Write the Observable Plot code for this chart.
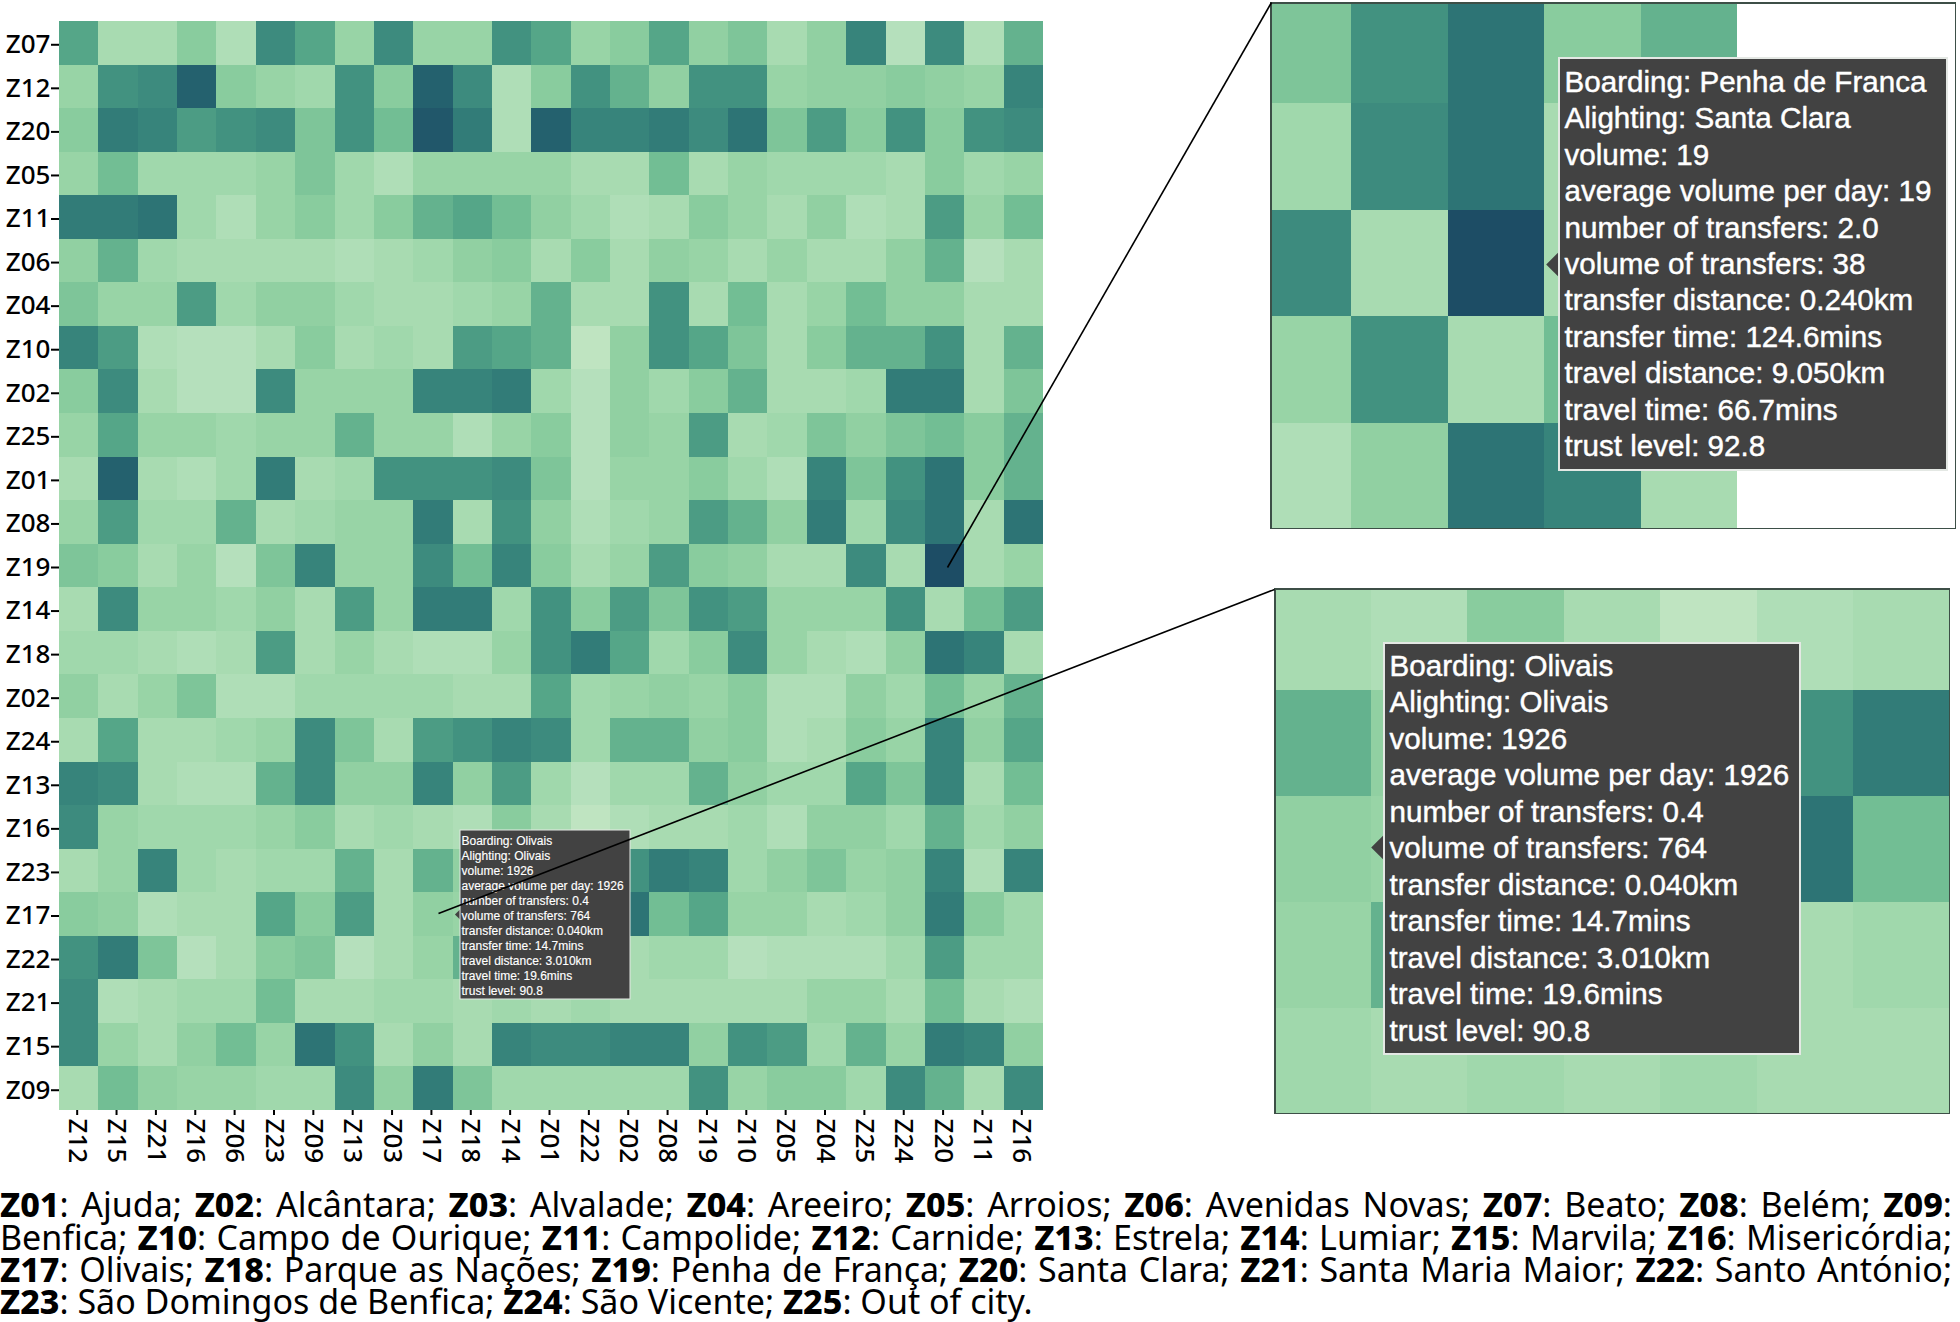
<!DOCTYPE html>
<html>
<head>
<meta charset="utf-8">
<script src="https://cdn.jsdelivr.net/npm/d3@7"></script>
<script src="https://cdn.jsdelivr.net/npm/@observablehq/plot@0.6"></script>
<style>
  html, body { margin: 0; padding: 0; background: #fff; }
  #page { position: relative; width: 1960px; height: 1322px; overflow: hidden; color: #000; }
  #page > svg { position: absolute; color: #000; }
  .legendLine { position: absolute; left: 0; width: 1952px; font: 400 34px "Noto Sans", sans-serif; color: #000;
    text-align: justify; text-align-last: justify; line-height: 32px; }
  .legendLine.last { text-align-last: left; }
  .legendLine b { font-weight: 800; }
</style>
</head>
<body>
<div id="page"></div>
<script>
// Axis labels, top to bottom and left to right
const rowLabels = ["Z07","Z12","Z20","Z05","Z11","Z06","Z04","Z10","Z02","Z25","Z01","Z08","Z19","Z14","Z18","Z02","Z24","Z13","Z16","Z23","Z17","Z22","Z21","Z15","Z09"];
const colLabels = ["Z12","Z15","Z21","Z16","Z06","Z23","Z09","Z13","Z03","Z17","Z18","Z14","Z01","Z22","Z02","Z08","Z19","Z10","Z05","Z04","Z25","Z24","Z20","Z11","Z16"];

// Cell intensity (1 = lightest, 12 = darkest), one row per boarding zone
const rZ07 = [7,3,3,5,2.5,8.5,7,4,8.5,4,4,8,7,4,5,7,4.5,5.5,3,4.5,9,2,8.5,2.5,6.5];
const rZ12 = [4,8,8.5,11,5,4,3.5,8,5,11,8.5,2.5,5,8,6.5,4.5,8,8,4,4.5,4.5,5,4.5,4,9];
const rZ20 = [5,9.5,9,7.5,8,8.5,5.5,8,6,11.5,9.5,2.5,11,9,9,9.5,8.5,10,5.5,7.5,5,8,5,8,8.5];
const rZ05 = [4,6,3.5,3.5,3.5,4,5.5,3.5,2.5,4,4,4,4,3,3,6,3,4,3.5,3.5,3.5,3,5,3.5,4];
const rZ11 = [9.5,9.5,10,3.5,2.5,4,5,3.5,5,6.5,7,6,4.5,3.5,2.5,3,5,4,3,4.5,2.5,3,7.5,4,6];
const rZ06 = [4.5,6.5,3.5,3,3,3,3,2.5,3,3.5,4.5,5,3,5,3,4.5,4,3,4,3,3,4.5,6.5,2,3];
const rZ04 = [5.5,4,4,7.5,3.5,4.5,4.5,3.5,3,3,3.5,4,6.5,3,3,8,3,6,3,4,6,4.5,4.5,3,3];
const rZ10 = [9,7.5,2.5,2,2,3,5,3,3.5,3,7.5,7,6.5,1.5,4.5,8,7,5.5,3,5,6.5,6.5,8,3,6.5];
const rZ02a = [5,8.5,3,2,2,8.5,4,4,4,9,9,9.5,3.5,2,4.5,3.5,5,6.5,3,3,3.5,9.5,9.5,3,5.5];
const rZ25 = [4,7,4,4,3.5,4,4,6.5,4,4,2.5,4,5,2,4.5,4,7.5,3,3.5,5.5,4.5,5.5,6,5,6.5];
const rZ01 = [3,11,3,2.5,3.5,9.5,3,3.5,8,8,8,8.5,5.5,2,4,4,5,3.5,2.5,9,5.5,8,10,5,6.5];
const rZ08 = [4,7.5,3.5,3.5,6.5,3,3.5,4,4,9.5,3,8,4.5,2.5,3.5,4,7.5,6.5,4.5,9.5,3.5,8.5,10,3,10];
const rZ19 = [5.5,5,3,4,2,5.5,9,4,4,8.5,6,9,5,3,4,7.5,5,4.5,3,3,8.5,3,12,3,4];
const rZ14 = [3,8.5,4,4,3.5,4.5,3,7.5,4,9.5,9.5,3.5,8,5,7.5,5.5,8,7.5,4,4,4,8,3,6,7.5];
const rZ18 = [3.5,3.5,3,2.5,3,7.5,3,4,3,2.5,2.5,4,8,9.5,7,3.5,5,8.5,4,3,2.5,4.5,10,9,3];
const rZ02b = [4.5,3,4,5.5,2.5,2.5,3.5,3.5,3.5,3.5,3,3,7,3.5,4,4.5,4,5,2.5,2.5,4.5,3.5,6,4,6.5];
const rZ24 = [3,7,3,3,3.5,4,8.5,5.5,3,7.5,8,9,8.5,3.5,6.5,6.5,4.5,5,2.5,3,5,4,9,4.5,7];
const rZ13 = [9,8.5,3,2.5,2.5,6.5,8.5,4.5,4.5,9,4.5,7.5,3.5,2,3.5,3.5,6.5,4.5,3.5,3.5,7,5.5,9,3,6];
const rZ16 = [8.5,4,3.5,3.5,3.5,4,5,3,3.5,3,2.5,5,3,1.5,2.5,3,3,3.5,2.5,4.5,4.5,3.5,6.5,3.5,4.5];
const rZ23 = [3,4,9,3.5,3,3.5,3.5,6.5,3,6.5,4.5,4,3.5,3.5,8,9.5,9,3.5,4.5,5.5,4,4.5,9,2.5,9];
const rZ17 = [5,4.5,2.5,3,3,7,5,7.5,3,4.5,4,3.5,3.5,3.5,10,6,7,4,4,3,3.5,4.5,9.5,5,3.5];
const rZ22 = [8,9.5,5.5,2,3,5,5.5,2,3,4,6.5,3,3,3,3,3.5,3.5,2,2.5,2.5,2.5,3.5,7.5,3.5,3.5];
const rZ21 = [8.5,2.5,3,3.5,3.5,6,3,3,3.5,3.5,3,3.5,3,3.5,3,3,3,3,3,4,4,3,6,3,2.5];
const rZ15 = [8.5,4,3,4.5,6,4,10,8,3,4.5,3,9,8.5,8.5,9,9,4.5,8,7.5,3.5,6.5,4,9.5,9,4.5];
const rZ09 = [3,6,4.5,4,4,3.5,3.5,8.5,4.5,9.5,5.5,3.5,3.5,3.5,3.5,3.5,8,4,5,5,3.5,8.5,6.5,3,8.5];
const matrix = [rZ07,rZ12,rZ20,rZ05,rZ11,rZ06,rZ04,rZ10,rZ02a,rZ25,rZ01,rZ08,rZ19,rZ14,rZ18,rZ02b,rZ24,rZ13,rZ16,rZ23,rZ17,rZ22,rZ21,rZ15,rZ09];

// Colour ramp of the reference
const rampLevels = [1,2,3,4,5,6,7,8,9,10,11,12];
const rampColors = ["#c8e7c6","#b5e0bc","#a8dbb1","#98d4a6","#89cc9e","#72be94","#55a688","#429280","#37847b","#2d7475","#24616e","#1d4d65"];

// Tooltip texts
const tipPenha = ["Boarding: Penha de Franca","Alighting: Santa Clara","volume: 19","average volume per day: 19","number of transfers: 2.0","volume of transfers: 38","transfer distance: 0.240km","transfer time: 124.6mins","travel distance: 9.050km","travel time: 66.7mins","trust level: 92.8"];
const tipOlivais = ["Boarding: Olivais","Alighting: Olivais","volume: 1926","average volume per day: 1926","number of transfers: 0.4","volume of transfers: 764","transfer distance: 0.040km","transfer time: 14.7mins","travel distance: 3.010km","travel time: 19.6mins","trust level: 90.8"];

// Zone key, one entry per line of the caption
const keyLines = [
  [["Z01","Ajuda"],["Z02","Alcântara"],["Z03","Alvalade"],["Z04","Areeiro"],["Z05","Arroios"],["Z06","Avenidas Novas"],["Z07","Beato"],["Z08","Belém"],["Z09",""]],
  [["","Benfica"],["Z10","Campo de Ourique"],["Z11","Campolide"],["Z12","Carnide"],["Z13","Estrela"],["Z14","Lumiar"],["Z15","Marvila"],["Z16","Misericórdia"]],
  [["Z17","Olivais"],["Z18","Parque as Nações"],["Z19","Penha de França"],["Z20","Santa Clara"],["Z21","Santa Maria Maior"],["Z22","Santo António"]],
  [["Z23","São Domingos de Benfica"],["Z24","São Vicente"],["Z25","Out of city"]]
];

const cells = matrix.flatMap((row, r) => row.map((v, c) => ({r, c, v})));
const colorScale = {type: "linear", domain: rampLevels, range: rampColors, clamp: true};
const page = document.getElementById("page");
const place = (svg, left, top) => { svg.style.left = left + "px"; svg.style.top = top + "px"; page.appendChild(svg); return svg; };

const axisFont = {fontFamily: "Noto Sans, sans-serif", fontSize: 26, fontWeight: 500};

// Main heatmap
place(Plot.plot({
  width: 1060, height: 1180,
  marginLeft: 59, marginRight: 17, marginTop: 21, marginBottom: 70,
  style: {background: "transparent"},
  x: {type: "band", domain: d3.range(25), padding: 0, round: false},
  y: {type: "band", domain: d3.range(25), padding: 0, round: false},
  color: colorScale,
  marks: [
    Plot.cell(cells, {x: "c", y: "r", fill: "v", shapeRendering: "crispEdges"}),
    Plot.axisX({anchor: "bottom", tickSize: 5, tickPadding: 3, tickRotate: 90, strokeWidth: 2, dx: -2,
      tickFormat: i => colLabels[i], label: null, ...axisFont}),
    Plot.axisY({anchor: "left", tickSize: 8, tickPadding: 1, strokeWidth: 2, dy: 1.5,
      tickFormat: i => rowLabels[i], label: null, ...axisFont})
  ]
}), 0, 0);

// Magnified views: the same cells through narrower scale domains
function inset({cols, rows, left, top, width, height, xRange, yRange}) {
  return place(Plot.plot({
    width, height, margin: 0,
    style: {background: "transparent"},
    x: {type: "band", domain: cols, range: xRange, padding: 0, round: false, axis: null},
    y: {type: "band", domain: rows, range: yRange, padding: 0, round: false, axis: null},
    color: colorScale,
    marks: [
      Plot.cell(cells.filter(d => cols.includes(d.c) && rows.includes(d.r)),
        {x: "c", y: "r", fill: "v", shapeRendering: "crispEdges", clip: true}),
      Plot.frame({stroke: "#3d4f47", strokeWidth: 3})
    ]
  }), left, top);
}
inset({cols: [20,21,22,23,24], rows: [10,11,12,13,14], left: 1270, top: 2, width: 686, height: 527,
       xRange: [-15, 467], yRange: [-5, 527]});
inset({cols: [9,10,11,12,13,14,15], rows: [18,19,20,21,22], left: 1274, top: 588, width: 676, height: 526,
       xRange: [0, 676], yRange: [-4, 526]});

// Callouts: tooltips and leader lines, in page pixels
const tips = [
  {lines: tipOlivais, x1: 460, x2: 630, y1: 830, y2: 999, tx: 461, ty: 841, step: 15, size: 12, ax: 460, ay: 914, ar: 5, bw: 1, sw: 0.15},
  {lines: tipPenha, x1: 1559, x2: 1947, y1: 58, y2: 470, tx: 1564, ty: 82, step: 36.4, size: 29.6, ax: 1559, ay: 264, ar: 12, bw: 2, sw: 0.45},
  {lines: tipOlivais, x1: 1384, x2: 1800, y1: 643, y2: 1054, tx: 1389, ty: 666, step: 36.5, size: 29.6, ax: 1384, ay: 847, ar: 12, bw: 2, sw: 0.45}
];
const tipLines = tips.flatMap(t => t.lines.map((text, i) => ({text, x: t.tx, y: t.ty + i * t.step, size: t.size, sw: t.sw})));
const leaders = [
  {x1: 947, y1: 567, x2: 1271, y2: 2},
  {x1: 438, y1: 913, x2: 1274, y2: 589}
];
place(Plot.plot({
  width: 1960, height: 1322, margin: 0,
  style: {background: "transparent", pointerEvents: "none"},
  x: {type: "identity"},
  y: {type: "identity"},
  r: {type: "identity"},
  marks: [
    Plot.dot(tips, {x: "ax", y: "ay", r: "ar", symbol: "diamond2", fill: "#424242", stroke: "none"}),
    Plot.rect(tips, {x1: "x1", x2: "x2", y1: "y1", y2: "y2", fill: "#424242", stroke: "#e4e8e4", strokeWidth: "bw"}),
    Plot.text(tipLines, {x: "x", y: "y", text: "text", fontSize: "size", textAnchor: "start", fill: "#fff", stroke: "#fff", strokeWidth: "sw",
      fontFamily: "Liberation Sans, sans-serif", fontWeight: 400}),
    Plot.link(leaders, {x1: "x1", y1: "y1", x2: "x2", y2: "y2", stroke: "#000", strokeWidth: 1.6})
  ]
}), 0, 0);

// Zone key below the chart
const lineTops = [1188, 1221, 1253, 1285];
keyLines.forEach((items, i) => {
  const div = document.createElement("div");
  div.className = "legendLine" + (i === keyLines.length - 1 ? " last" : "");
  div.style.top = lineTops[i] + "px";
  div.innerHTML = items.map(([code, name], j) => {
    const tail = j === items.length - 1 && name === "" ? ":" : (j === items.length - 1 && i === 3 ? "." : ";");
    const head = code ? `<b>${code}</b>` : "";
    const body = code && name ? `: ${name}` : name;
    return head + body + tail;
  }).join(" ");
  page.appendChild(div);
});
</script>
</body>
</html>
